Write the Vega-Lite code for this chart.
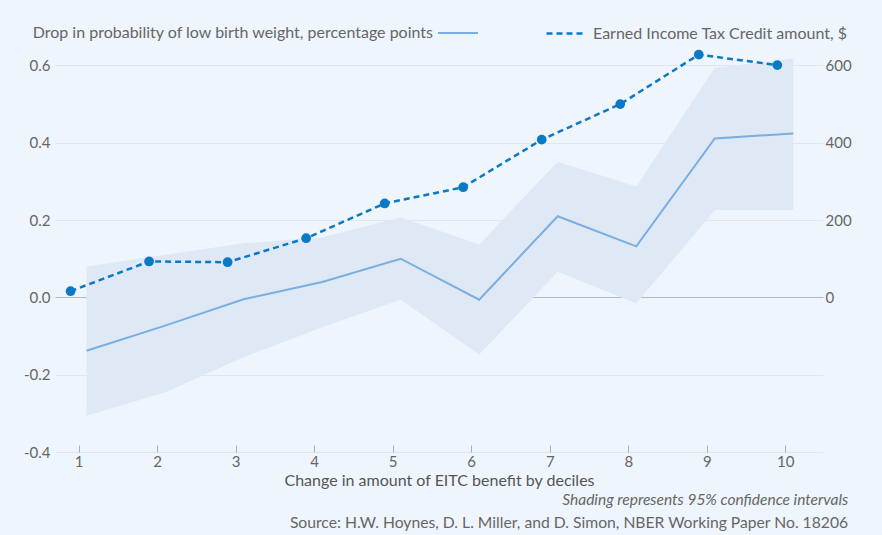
{
  "$schema": "https://vega.github.io/schema/vega-lite/v6.json",
  "width": 768,
  "height": 402,
  "autosize": {"type": "none"},
  "padding": {"left": 55, "top": 50, "right": 59, "bottom": 83},
  "background": "#eff5fc",
  "config": {
    "view": {"stroke": null},
    "font": "Lato",
    "axis": {"labelFont": "Lato", "labelFontSize": 15, "labelColor": "#666666", "titleFont": "Lato"},
    "legend": {"labelFont": "Lato"}
  },
  "data": {
    "values": [
      {"decile": 1, "est": -0.138, "lo": -0.306, "hi": 0.08, "eitc": 16},
      {"decile": 2, "est": -0.073, "lo": -0.246, "hi": 0.11, "eitc": 93},
      {"decile": 3, "est": -0.005, "lo": -0.155, "hi": 0.14, "eitc": 91},
      {"decile": 4, "est": 0.04, "lo": -0.077, "hi": 0.155, "eitc": 153},
      {"decile": 5, "est": 0.1, "lo": -0.006, "hi": 0.207, "eitc": 243},
      {"decile": 6, "est": -0.006, "lo": -0.148, "hi": 0.137, "eitc": 285},
      {"decile": 7, "est": 0.21, "lo": 0.066, "hi": 0.351, "eitc": 408},
      {"decile": 8, "est": 0.132, "lo": -0.016, "hi": 0.287, "eitc": 500},
      {"decile": 9, "est": 0.411, "lo": 0.226, "hi": 0.594, "eitc": 628},
      {"decile": 10, "est": 0.424, "lo": 0.226, "hi": 0.618, "eitc": 601}
    ]
  },
  "title": {
    "text": "Shading represents 95% confidence intervals",
    "subtitle": "Source: H.W. Hoynes, D. L. Miller, and D. Simon, NBER Working Paper No. 18206",
    "orient": "bottom",
    "anchor": "end",
    "dx": -3,
    "offset": 5,
    "font": "Lato",
    "fontSize": 15.5,
    "fontStyle": "italic",
    "fontWeight": "normal",
    "color": "#666666",
    "subtitleFont": "Lato",
    "subtitleFontSize": 15.7,
    "subtitleFontStyle": "normal",
    "subtitleColor": "#666666",
    "subtitlePadding": 7
  },
  "layer": [
    {
      "layer": [
        {
          "mark": {"type": "area", "xOffset": 8, "color": "#dfe9f6", "opacity": 1},
          "encoding": {
            "x": {
              "field": "decile",
              "type": "quantitative",
              "scale": {"domain": [0.7, 10.48], "nice": false, "zero": false},
              "axis": {
                "values": [1, 2, 3, 4, 5, 6, 7, 8, 9, 10],
                "format": "d",
                "grid": false,
                "domain": false,
                "offset": -7,
                "tickColor": "#b0b0b0",
                "tickSize": 7,
                "labelPadding": 2,
                "title": "Change in amount of EITC benefit by deciles",
                "titleFontSize": 16,
                "titleFontWeight": "normal",
                "titleColor": "#555555",
                "titlePadding": 3
              }
            },
            "y": {
              "field": "lo",
              "type": "quantitative",
              "scale": {"domain": [-0.4, 0.64], "nice": false, "zero": false},
              "axis": {
                "values": [-0.4, -0.2, 0, 0.2, 0.4, 0.6],
                "labelExpr": "replace(format(datum.value, '.1f'), '\u2212', '-')",
                "title": null,
                "domain": false,
                "ticks": false,
                "labelPadding": 5,
                "grid": true,
                "gridColor": {"condition": {"test": "datum.value === 0", "value": "#b4b8bd"}, "value": "#e1e6ec"}
              }
            },
            "y2": {"field": "hi"}
          }
        },
        {
          "mark": {"type": "line", "xOffset": 8, "strokeWidth": 2},
          "encoding": {
            "x": {"field": "decile", "type": "quantitative"},
            "y": {"field": "est", "type": "quantitative"},
            "stroke": {
              "datum": "Drop in probability of low birth weight, percentage points",
              "scale": {"range": ["#7aaee0"]},
              "legend": {
                "title": null,
                "orient": "none",
                "legendX": 382,
                "legendY": -38,
                "padding": 0,
                "symbolType": "stroke",
                "symbolSize": 1600,
                "symbolStrokeWidth": 2,
                "labelAlign": "right",
                "labelOffset": -46,
                "labelLimit": 0,
                "labelFontSize": 16,
                "labelColor": "#666666"
              }
            }
          }
        }
      ]
    },
    {
      "layer": [
        {
          "mark": {"type": "line", "xOffset": -8, "strokeWidth": 2.5, "color": "#0a7ac4"},
          "encoding": {
            "x": {"field": "decile", "type": "quantitative"},
            "y": {
              "field": "eitc",
              "type": "quantitative",
              "scale": {"domain": [-400, 640], "nice": false, "zero": false},
              "axis": {
                "orient": "right",
                "values": [0, 200, 400, 600],
                "title": null,
                "domain": false,
                "ticks": false,
                "grid": false,
                "labelPadding": 2
              }
            },
            "strokeDash": {
              "datum": "Earned Income Tax Credit amount, $",
              "scale": {"range": [[6, 4]]},
              "legend": {
                "title": null,
                "orient": "none",
                "legendX": 490,
                "legendY": -38,
                "padding": 0,
                "symbolType": "stroke",
                "symbolSize": 1600,
                "symbolStrokeWidth": 2.5,
                "symbolStrokeColor": "#0a7ac4",
                "labelOffset": 5,
                "labelLimit": 0,
                "labelFontSize": 16,
                "labelColor": "#666666"
              }
            }
          }
        },
        {
          "mark": {"type": "point", "filled": true, "size": 95, "xOffset": -8, "color": "#0a7ac4", "opacity": 1},
          "encoding": {
            "x": {"field": "decile", "type": "quantitative"},
            "y": {"field": "eitc", "type": "quantitative"}
          }
        }
      ]
    }
  ],
  "resolve": {"scale": {"y": "independent"}}
}
